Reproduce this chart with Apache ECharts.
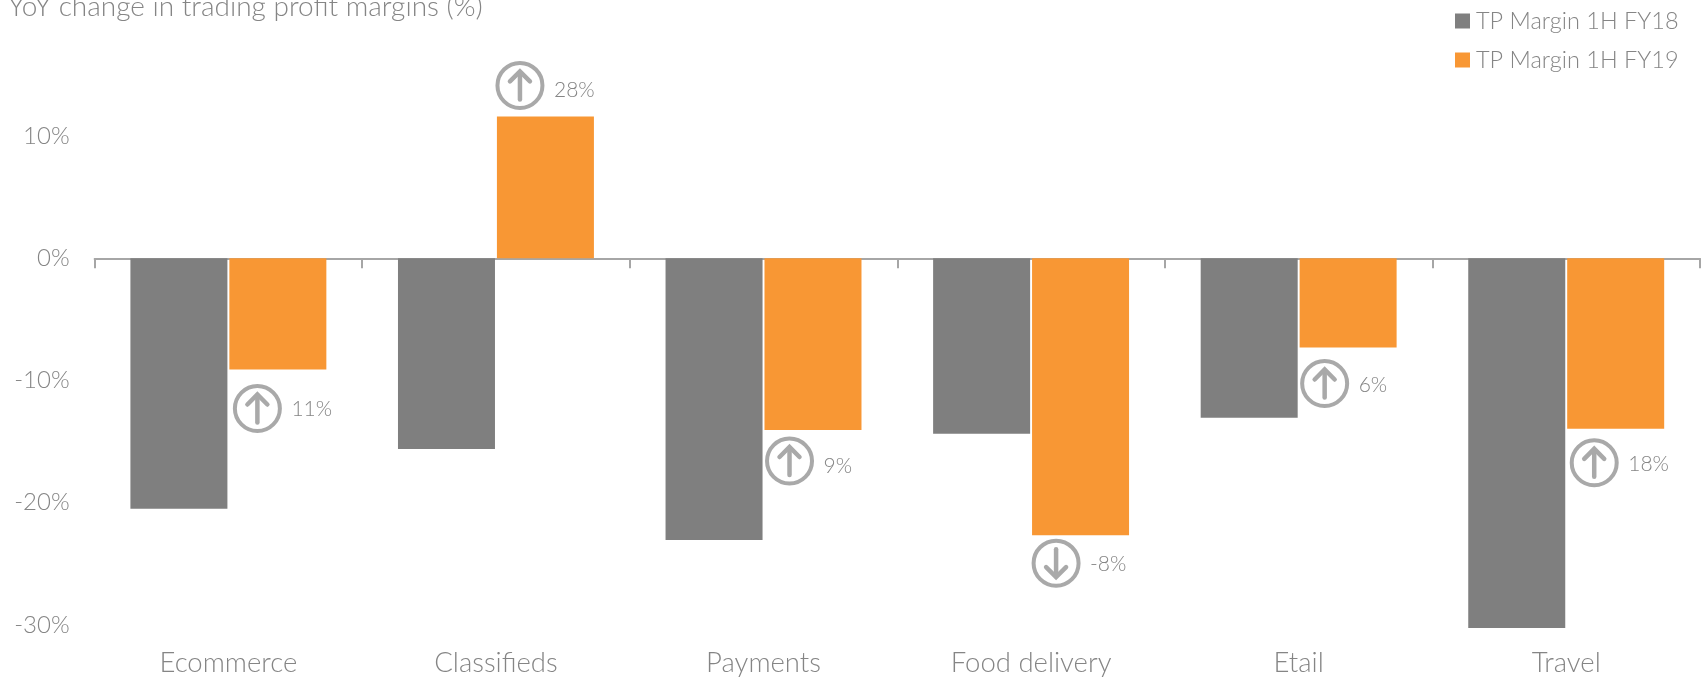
<!DOCTYPE html>
<html>
<head>
<meta charset="utf-8">
<style>
html,body{margin:0;padding:0;background:#fff}
#chart{width:1706px;height:677px}
</style>
<script src="https://cdn.jsdelivr.net/npm/echarts@6/dist/echarts.min.js"></script>
</head>
<body>
<div id="chart"></div>
<script>
var categories = ['Ecommerce', 'Classifieds', 'Payments', 'Food delivery', 'Etail', 'Travel'];
var marginFY18 = [-20.5, -15.6, -23.05, -14.35, -13.05, -30.25];
var marginFY19 = [-9.1, 11.6, -14.05, -22.65, -7.3, -13.95];
var yoyChange = [11, 28, 9, -8, 6, 18];
var yTicks = [10, 0, -10, -20, -30];

var FONT = 'Lato';
var TEXT = '#858585';
var RING = '#a9a9a9';

// callout offset from the orange bar's end, px
var calloutDx = [28, 23, 25, 24, 25, 27];
var calloutDy = [39, 31, 31, 28, 36, 34];
var calloutTextDy = [0, 4, 4, 0, 1, 0];

function renderCallout(params, api) {
    var i = params.dataIndex;
    var pt = api.coord([api.value(0), api.value(1)]);
    var change = api.value(2);
    var up = change >= 0;
    var cx = pt[0] + 1 + calloutDx[i];
    var cy = pt[1] + (api.value(1) >= 0 ? -calloutDy[i] : calloutDy[i]);
    var d = up ? -1 : 1;
    var arrowStyle = {stroke: RING, lineWidth: 4.5, fill: null, lineCap: 'round'};
    return {
        type: 'group',
        children: [
            {type: 'circle', shape: {cx: cx, cy: cy, r: 22.5}, style: {stroke: RING, lineWidth: 4, fill: '#fff'}},
            {type: 'line', shape: {x1: cx, y1: cy - d * 14, x2: cx, y2: cy + d * 13}, style: arrowStyle},
            {type: 'polyline', shape: {points: [[cx - 10, cy + d * 4], [cx, cy + d * 14], [cx + 10, cy + d * 4]]}, style: arrowStyle},
            {type: 'text', style: {x: cx + 34, y: cy + 1 + calloutTextDy[i], text: change + '%', fill: TEXT, font: '300 21px ' + FONT, textAlign: 'left', textVerticalAlign: 'middle'}}
        ]
    };
}

var myChart = echarts.init(document.getElementById('chart'), null, {renderer: 'canvas'});

var option = {
    animation: false,
    backgroundColor: '#fff',
    title: {
        text: 'YoY change in trading profit margins (%)',
        left: 3,
        top: -12,
        textStyle: {color: TEXT, fontFamily: FONT, fontWeight: 300, fontSize: 28}
    },
    legend: {
        orient: 'vertical',
        left: 1450,
        top: 4,
        icon: 'rect',
        itemWidth: 15,
        itemHeight: 15,
        itemGap: 15,
        data: ['TP Margin 1H FY18', 'TP Margin 1H FY19'],
        textStyle: {color: TEXT, fontFamily: FONT, fontWeight: 300, fontSize: 23.5, padding: [0, 0, 0, 1]}
    },
    grid: {left: 94.6, right: 6, top: 136, bottom: 50.5},
    xAxis: [
        {
            type: 'category',
            data: categories,
            position: 'bottom',
            axisLine: {onZero: true, lineStyle: {color: '#a6a6a6', width: 2}},
            axisTick: {show: true, alignWithLabel: false, length: 10, lineStyle: {color: '#a6a6a6', width: 2}},
            axisLabel: {show: false}
        },
        {
            type: 'category',
            data: categories,
            position: 'bottom',
            axisLine: {show: false, onZero: false},
            axisTick: {show: false},
            axisLabel: {color: TEXT, fontFamily: FONT, fontWeight: 300, fontSize: 27.5, margin: 24}
        }
    ],
    yAxis: {
        type: 'value',
        min: yTicks[yTicks.length - 1],
        max: yTicks[0],
        interval: 10,
        splitLine: {show: false},
        axisLine: {show: false},
        axisTick: {show: false},
        axisLabel: {color: TEXT, fontFamily: FONT, fontWeight: 300, fontSize: 24, margin: 25, padding: [1, 0, 0, 0], formatter: '{value}%'}
    },
    series: [
        {
            name: 'TP Margin 1H FY18',
            type: 'bar',
            xAxisIndex: 0,
            barWidth: 97,
            barGap: '2%',
            clip: false,
            itemStyle: {color: '#7f7f7f'},
            data: marginFY18
        },
        {
            name: 'TP Margin 1H FY19',
            type: 'bar',
            xAxisIndex: 0,
            barWidth: 97,
            barGap: '2%',
            clip: false,
            itemStyle: {color: '#f89734'},
            data: marginFY19
        },
        {
            type: 'custom',
            xAxisIndex: 0,
            clip: false,
            silent: true,
            renderItem: renderCallout,
            encode: {x: 0, y: 1},
            data: categories.map(function (c, i) { return [i, marginFY19[i], yoyChange[i]]; }),
            z: 5
        }
    ]
};

myChart.setOption(option, true);
</script>
</body>
</html>
